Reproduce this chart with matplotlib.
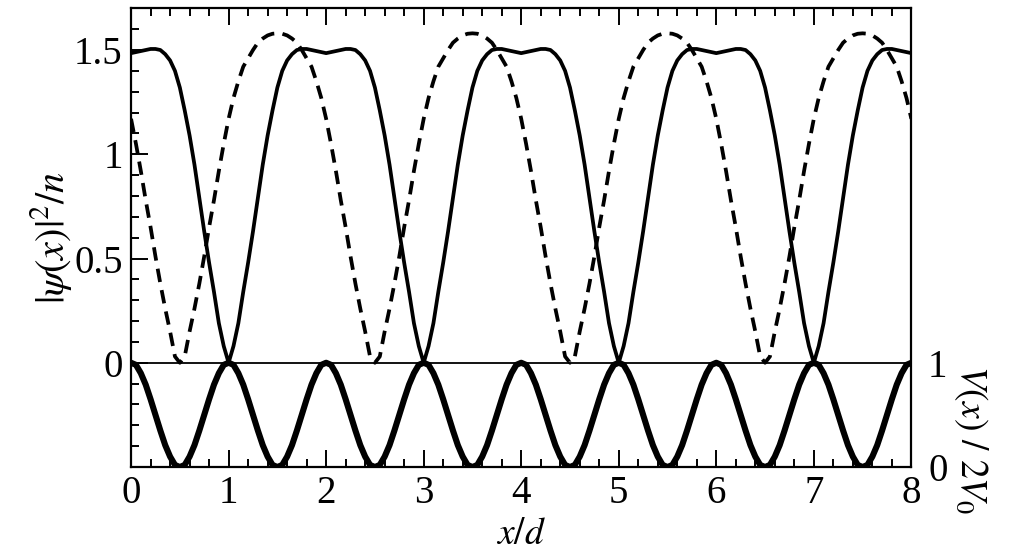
import numpy as np
import matplotlib.pyplot as plt
from matplotlib.ticker import FixedLocator, FixedFormatter, MultipleLocator

plt.rcParams['font.family'] = ['Liberation Serif', 'DejaVu Serif']
plt.rcParams['mathtext.fontset'] = 'stix'

# one period (x = 0 .. 1.95, step 0.05) of each curve
solid_period = [1.485, 1.49, 1.495, 1.50, 1.505, 1.505, 1.50, 1.48, 1.45, 1.40,
                1.32, 1.21, 1.09, 0.95, 0.79, 0.63, 0.48, 0.34, 0.19, 0.08,
                0.0, 0.08, 0.19, 0.34, 0.48, 0.63, 0.79, 0.95, 1.09, 1.21,
                1.32, 1.40, 1.45, 1.48, 1.50, 1.505, 1.505, 1.50, 1.495, 1.49]
dashed_period = [1.17, 1.05, 0.92, 0.78, 0.65, 0.51, 0.38, 0.26, 0.15, 0.03,
                 0.0, 0.03, 0.15, 0.26, 0.38, 0.51, 0.65, 0.78, 0.92, 1.05,
                 1.17, 1.27, 1.35, 1.42, 1.46, 1.50, 1.535, 1.555, 1.57, 1.578,
                 1.58, 1.578, 1.57, 1.555, 1.535, 1.50, 1.46, 1.42, 1.35, 1.27]
# potential V(x)/2V0, one period x = 0 .. 0.95
pot_period = [1.0, 0.98, 0.9, 0.79, 0.65, 0.5, 0.35, 0.21, 0.1, 0.02,
              0.0, 0.02, 0.1, 0.21, 0.35, 0.5, 0.65, 0.79, 0.9, 0.98]

n_periods = 4
x = np.linspace(0, 8, 161)
solid = solid_period * n_periods + solid_period[:1]
dashed = dashed_period * n_periods + dashed_period[:1]
pot = pot_period * (2 * n_periods) + pot_period[:1]

fig = plt.figure(figsize=(10.24, 5.54), dpi=100)
ax = fig.add_axes([0.128, 0.157, 0.762, 0.828])

ax.plot(x, solid, color='black', lw=2.7, solid_joinstyle='round')
ax.plot(x, dashed, color='black', lw=2.7, linestyle=(0, (3.6, 2.2)))
ax.axhline(0, color='black', lw=1.3)

ax.set_xlim(0, 8)
ax.set_ylim(-0.5, 1.7)

# left axis ticks
ax.yaxis.set_major_locator(FixedLocator([-0.5, 0, 0.5, 1, 1.5]))
ax.yaxis.set_major_formatter(FixedFormatter(['', '0', '0.5', '1', '1.5']))
ax.yaxis.set_minor_locator(MultipleLocator(0.1))
ax.xaxis.set_major_locator(MultipleLocator(1))
ax.xaxis.set_minor_locator(MultipleLocator(0.2))
ax.tick_params(which='both', direction='in', top=True, right=True,
               labelsize=28, width=1.4)
ax.tick_params(which='major', length=12, pad=6)
ax.tick_params(which='minor', length=6)
for s in ax.spines.values():
    s.set_linewidth(1.6)

ax.set_xlabel(r'$x/d$', fontsize=27)
ax.xaxis.set_label_coords(0.5, -0.11)
ax.set_ylabel(r'$|\psi(x)|^2/n$', fontsize=29, labelpad=0)

# potential on its own right-hand scale
ax2 = ax.twinx()
ax2.plot(x, pot, color='black', lw=4.4)
ax2.set_ylim(0, 4.4)
ax2.set_yticks([0, 1])
ax2.set_yticklabels(['0', '1'])
ax2.tick_params(length=0, labelsize=28, pad=12)
for s in ax2.spines.values():
    s.set_visible(False)
ax2.set_ylabel(r'$V(x)\ /\ 2V_0$', fontsize=27, rotation=270)
ax2.yaxis.set_label_coords(1.1, 0.06)

fig.savefig('out.png', dpi=100)
